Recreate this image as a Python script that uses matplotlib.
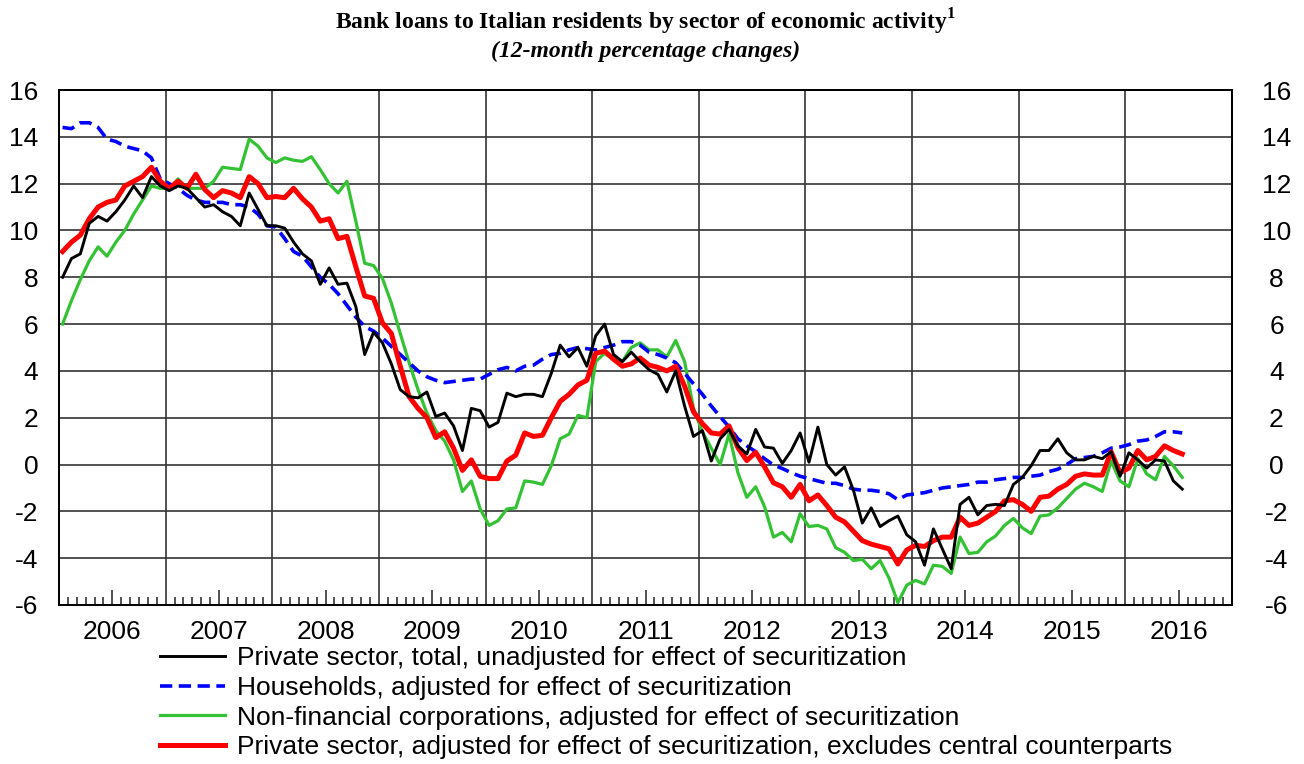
import numpy as np
import matplotlib
matplotlib.use("Agg")
import matplotlib.pyplot as plt

plt.rcParams["mathtext.fontset"] = "custom"
plt.rcParams["mathtext.rm"] = "Liberation Serif"
plt.rcParams["mathtext.bf"] = "Liberation Serif:bold"

# monthly observations, Jan 2006 - Jul 2016 (12-month % changes)
private_total = [
    8.0, 8.8, 9.0, 10.3, 10.6, 10.4, 10.8, 11.3, 11.9, 11.4, 12.3, 11.9,
    11.7, 11.9, 11.8, 11.4, 11.0, 11.1, 10.8, 10.6, 10.2, 11.6, 10.9, 10.2,
    10.2, 10.1, 9.5, 9.0, 8.7, 7.7, 8.4, 7.7, 7.75, 6.75, 4.7, 5.65,
    5.2, 4.3, 3.2, 2.9, 2.85, 3.1, 2.05, 2.2, 1.65, 0.6, 2.4, 2.3,
    1.6, 1.8, 3.05, 2.9, 3.0, 3.0, 2.9, 3.9, 5.1, 4.6, 5.0, 4.2,
    5.5, 6.0, 4.7, 4.4, 4.8, 4.4, 4.05, 3.85, 3.1, 4.0, 2.5, 1.2,
    1.45, 0.15, 1.1, 1.5, 0.8, 0.45, 1.5, 0.75, 0.7, 0.05, 0.6, 1.35,
    0.1, 1.6, 0.0, -0.45, -0.1, -1.1, -2.5, -1.85, -2.65, -2.4, -2.2, -3.0,
    -3.3, -4.3, -2.75, -3.6, -4.45, -1.7, -1.4, -2.15, -1.75, -1.7, -1.75, -0.85,
    -0.55, -0.05, 0.6, 0.6, 1.1, 0.5, 0.2, 0.2, 0.35, 0.25, 0.55, -0.5,
    0.5, 0.2, -0.15, 0.2, 0.15, -0.7, -1.05,
]
households = [
    14.4, 14.35, 14.6, 14.6, 14.4, 13.9, 13.8, 13.6, 13.5, 13.4, 13.1, 12.2,
    12.0, 11.8, 11.5, 11.3, 11.2, 11.2, 11.2, 11.1, 11.1, 11.0, 10.7, 10.2,
    10.15, 9.65, 9.1, 8.9, 8.45, 8.0, 7.7, 7.3, 6.8, 6.3, 5.9, 5.7,
    5.4, 5.05, 4.7, 4.35, 4.0, 3.75, 3.6, 3.5, 3.55, 3.6, 3.65, 3.65,
    3.85, 4.05, 4.15, 4.0, 4.2, 4.25, 4.5, 4.7, 4.75, 4.9, 5.0, 4.95,
    4.9, 5.0, 5.1, 5.25, 5.25, 5.1, 4.8, 4.7, 4.55, 4.35, 3.9, 3.45,
    3.0, 2.5, 2.05, 1.6, 1.1, 0.8, 0.55, 0.25, -0.02, -0.17, -0.35, -0.5,
    -0.6, -0.7, -0.8, -0.8, -0.9, -1.05, -1.1, -1.1, -1.15, -1.25, -1.5, -1.3,
    -1.25, -1.2, -1.1, -1.0, -0.95, -0.9, -0.85, -0.75, -0.75, -0.65, -0.6, -0.55,
    -0.55, -0.5, -0.45, -0.3, -0.2, 0.0, 0.25, 0.3, 0.35, 0.5, 0.7, 0.75,
    0.85, 1.0, 1.05, 1.2, 1.4, 1.4, 1.35,
]
nonfin_corp = [
    6.0, 7.0, 7.9, 8.7, 9.3, 8.9, 9.5, 10.0, 10.7, 11.3, 11.9, 11.8,
    11.8, 12.2, 11.8, 11.8, 11.8, 12.1, 12.7, 12.65, 12.6, 13.9, 13.6, 13.1,
    12.9, 13.1, 13.0, 12.95, 13.15, 12.6, 12.0, 11.6, 12.1, 10.4, 8.6, 8.5,
    7.95, 6.9, 5.6, 4.35, 3.2, 2.2, 1.45, 1.0, 0.2, -1.15, -0.7, -1.9,
    -2.6, -2.4, -1.9, -1.85, -0.7, -0.75, -0.85, -0.05, 1.1, 1.3, 2.1, 2.0,
    4.4, 4.75, 4.5, 4.4, 5.0, 5.2, 4.9, 4.9, 4.6, 5.3, 4.4, 2.4,
    1.4, 0.7, 0.0, 1.3, -0.35, -1.4, -0.95, -1.8, -3.1, -2.9, -3.3, -2.1,
    -2.65, -2.6, -2.75, -3.55, -3.75, -4.1, -4.05, -4.45, -4.1, -4.85, -5.9, -5.15,
    -4.95, -5.1, -4.3, -4.35, -4.65, -3.1, -3.8, -3.75, -3.3, -3.05, -2.6, -2.3,
    -2.7, -2.95, -2.2, -2.15, -1.85, -1.45, -1.05, -0.8, -0.95, -1.15, 0.15, -0.7,
    -0.95, 0.25, -0.4, -0.65, 0.35, -0.05, -0.55,
]
private_adj = [
    9.1, 9.5, 9.8, 10.5, 11.0, 11.2, 11.3, 11.9, 12.1, 12.3, 12.7, 12.1,
    11.8, 12.1, 11.8, 12.4, 11.75, 11.4, 11.7, 11.6, 11.4, 12.3, 12.0, 11.4,
    11.45, 11.4, 11.8, 11.35, 11.0, 10.4, 10.5, 9.65, 9.75, 8.45, 7.2, 7.1,
    6.05, 5.6, 4.2, 2.9, 2.4, 2.0, 1.15, 1.4, 0.7, -0.25, 0.2, -0.5,
    -0.6, -0.6, 0.15, 0.4, 1.35, 1.2, 1.25, 2.0, 2.7, 3.0, 3.4, 3.6,
    4.75, 4.85, 4.5, 4.2, 4.3, 4.55, 4.25, 4.15, 4.0, 4.2, 3.35, 2.25,
    1.75, 1.35, 1.3, 1.65, 0.72, 0.17, 0.52, -0.1, -0.78, -0.95, -1.4, -0.85,
    -1.55, -1.3, -1.75, -2.25, -2.45, -2.85, -3.25, -3.4, -3.5, -3.6, -4.25, -3.65,
    -3.45, -3.5, -3.25, -3.1, -3.1, -2.25, -2.6, -2.5, -2.25, -2.0, -1.55, -1.5,
    -1.7, -2.0, -1.4, -1.35, -1.05, -0.85, -0.5, -0.4, -0.45, -0.45, 0.55, -0.35,
    -0.15, 0.6, 0.2, 0.35, 0.8, 0.6, 0.45,
]

labels = [
    "Private sector, total, unadjusted for effect of securitization",
    "Households, adjusted for effect of securitization",
    "Non-financial corporations, adjusted for effect of securitization",
    "Private sector, adjusted for effect of securitization, excludes central counterparts",
]
years = list(range(2006, 2017))

months = np.arange(len(private_total))
x = 2006 + (months + 0.4) / 12.0

fig = plt.figure(figsize=(13.04, 7.64), dpi=100)
ax = fig.add_axes([59 / 1304, 1 - 605 / 764, (1232 - 59) / 1304, (605 - 90) / 764])

ax.plot(x, private_total, color="black", lw=2.1, label=labels[0], zorder=5)
ax.plot(x, households, color="#0000ff", lw=2.6, ls=(0, (3.4, 1.8)), label=labels[1], zorder=4)
ax.plot(x, nonfin_corp, color="#33c233", lw=2.3, label=labels[2], zorder=3)
ax.plot(x, private_adj, color="#ff0000", lw=3.6, label=labels[3], zorder=4)

ax.set_xlim(2006, 2017)
ax.set_ylim(-6, 16)

# y axis, labels on both sides
yt = np.arange(-6, 17, 2)
ax.set_yticks(yt)
ax.set_yticklabels([str(v) for v in yt], fontsize=19, family="Liberation Sans")
ax.tick_params(axis="y", length=0, pad=15)

axr = ax.twinx()
axr.set_ylim(-6, 16)
axr.set_yticks(yt)
axr.set_yticklabels([str(v) for v in yt], fontsize=19, family="Liberation Sans", ha="center")
axr.tick_params(axis="y", length=0, pad=32)

# grid lines
for v in yt:
    ax.axhline(v, color="#222222", lw=1.1, zorder=1)
for yr in range(2007, 2017):
    ax.axvline(yr, color="#333333", lw=1.2, zorder=1)

# x ticks: long one mid-year (with label), short one per month
ax.set_xticks([y + 0.5 for y in years])
ax.set_xticklabels([str(y) for y in years], fontsize=19, family="Liberation Sans")
ax.tick_params(axis="x", which="major", direction="in", length=11, width=1.1, pad=11, color="#222222")
minor = sorted(set(y + m / 12.0 for y in years for m in range(1, 12) if m != 6))
ax.set_xticks(minor, minor=True)
ax.tick_params(axis="x", which="minor", direction="in", length=6, width=1.1, color="#222222")

for a in (ax, axr):
    for s in a.spines.values():
        s.set_color("black")
        s.set_linewidth(1.3)

fig.text(0.495, 0.972, r"Bank loans to Italian residents by sector of economic activity$^{\mathbf{1}}$",
         ha="center", va="center", fontsize=17, fontweight="bold", family="Liberation Serif")
fig.text(0.495, 0.933, "(12-month percentage changes)", ha="center", va="center",
         fontsize=17, fontweight="bold", style="italic", family="Liberation Serif")

fig.legend(*ax.get_legend_handles_labels(), loc="upper left",
           bbox_to_anchor=(160 / 1304, 1 - 646 / 764), frameon=False,
           handlelength=2.46, handletextpad=0.45, labelspacing=0.22,
           borderpad=0, borderaxespad=0, prop={"family": "Liberation Sans", "size": 19})

fig.savefig("out.png", dpi=100)
